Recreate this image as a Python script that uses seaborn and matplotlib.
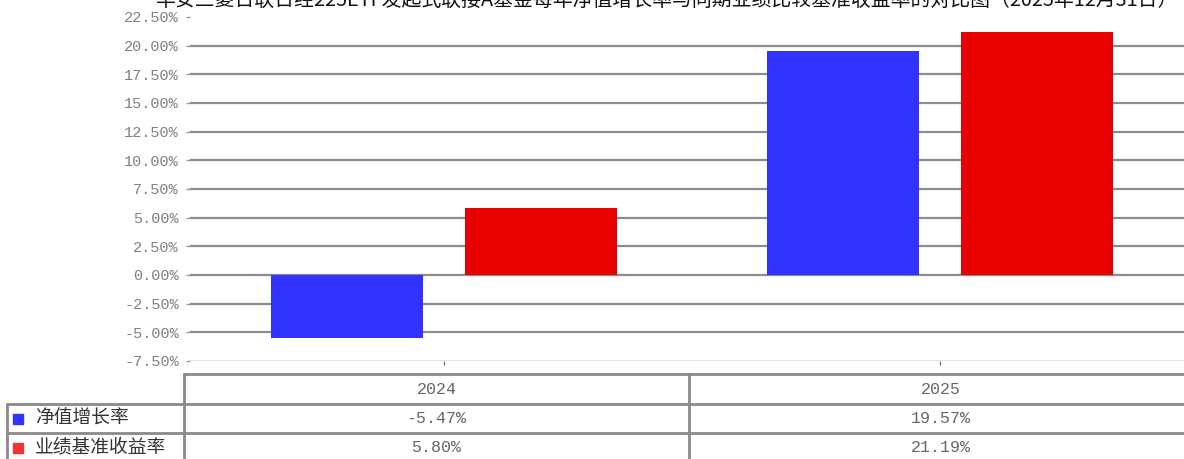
import numpy as np
import pandas as pd
import matplotlib
matplotlib.use("Agg")
import matplotlib.pyplot as plt
import seaborn as sns

# data
years = ["2024", "2025"]
series_names = ["净值增长率", "业绩基准收益率"]
nav_growth = [-5.47, 19.57]
benchmark = [5.80, 21.19]
series_colors = ["#3333ff", "#e60000"]
legend_colors = ["#3333ff", "#ee3333"]
title = "华安三菱日联日经225ETF发起式联接A基金每年净值增长率与同期业绩比较基准收益率的对比图（2025年12月31日）"

df = pd.DataFrame({
    "year": years * 2,
    "series": [series_names[0]] * 2 + [series_names[1]] * 2,
    "value": nav_growth + benchmark,
})

sns.set_style("white")
plt.rcParams["font.family"] = ["Noto Sans CJK SC", "DejaVu Sans"]
mono = ["Liberation Mono", "DejaVu Sans Mono"]

W, H = 1184, 459
fig = plt.figure(figsize=(W / 100, H / 100), dpi=100)
ax = fig.add_axes([190 / W, 1 - 361 / H, (W - 190) / W, (361 - 17) / H])

sns.barplot(data=df, x="year", y="value", hue="series", hue_order=series_names,
            palette=series_colors, width=0.78, gap=0.215, saturation=1,
            linewidth=0, edgecolor="none", legend=False, ax=ax, zorder=3)

ax.set_xlim(-0.512, 1.492)
ax.set_ylim(-7.5, 22.5)
yt = np.arange(-7.5, 22.6, 2.5)
ax.set_yticks(yt)
ax.set_yticklabels([f"{v:.2f}%" for v in yt], family=mono, fontsize=11, color="#808080")
ax.set_xticklabels([])
ax.set_xlabel("")
ax.set_ylabel("")
ax.tick_params(axis="y", length=3, width=1, color="#999999", pad=5, left=True)
ax.tick_params(axis="x", length=3, width=0.8, color="#666666", bottom=True)

ax.set_axisbelow(True)
ax.yaxis.grid(True, color="#8c8c8c", linewidth=1.6)
gl = ax.get_ygridlines()
gl[-1].set_visible(False)
gl[0].set_color("#e4e4e4")
for s in ax.spines.values():
    s.set_visible(False)

# title, cut off at the top like the reference
fig.text(666 / W, 1 - 6 / H, title, ha="center", va="baseline", fontsize=14.3, color="#111111")

# data table below the chart, in pixel coordinates
fig.canvas.draw()
tab = fig.add_axes([0, 0, 1, 1], facecolor="none")
tab.set_xlim(0, W)
tab.set_ylim(H, 0)
tab.axis("off")

centers = [ax.transData.transform((i, 0))[0] for i in range(len(years))]
edges = [184, 689, 1194]
row_y = [374, 404, 433, 462]
lc = "#8a8a8a"
tab.plot([edges[0], W], [row_y[0], row_y[0]], color=lc, lw=2)
tab.plot([7, W], [row_y[1], row_y[1]], color=lc, lw=2)
tab.plot([7, W], [row_y[2], row_y[2]], color=lc, lw=2)
tab.plot([7, W], [row_y[3], row_y[3]], color=lc, lw=2)
tab.plot([7, 7], [row_y[1], row_y[3]], color=lc, lw=2)
for e in edges:
    tab.plot([e, e], [row_y[0], row_y[3]], color=lc, lw=2)

col_mid = [(edges[0] + edges[1]) / 2, (edges[1] + edges[2]) / 2 - 1]
for c, yr in zip(col_mid, years):
    tab.text(c, (row_y[0] + row_y[1]) / 2, yr, ha="center", va="center",
             family=mono, fontsize=12, color="#666666")

rows = [nav_growth, benchmark]
for r, (name, vals) in enumerate(zip(series_names, rows)):
    ymid = (row_y[r + 1] + row_y[r + 2]) / 2
    tab.add_patch(plt.Rectangle((13, ymid - 5), 10, 10, color=legend_colors[r]))
    tab.text(35, ymid, name, ha="left", va="center", fontsize=13.5, color="#333333")
    for c, v in zip(col_mid, vals):
        tab.text(c, ymid, f"{v:.2f}%", ha="center", va="center",
                 family=mono, fontsize=12, color="#666666")

fig.savefig("out.png", dpi=100)
